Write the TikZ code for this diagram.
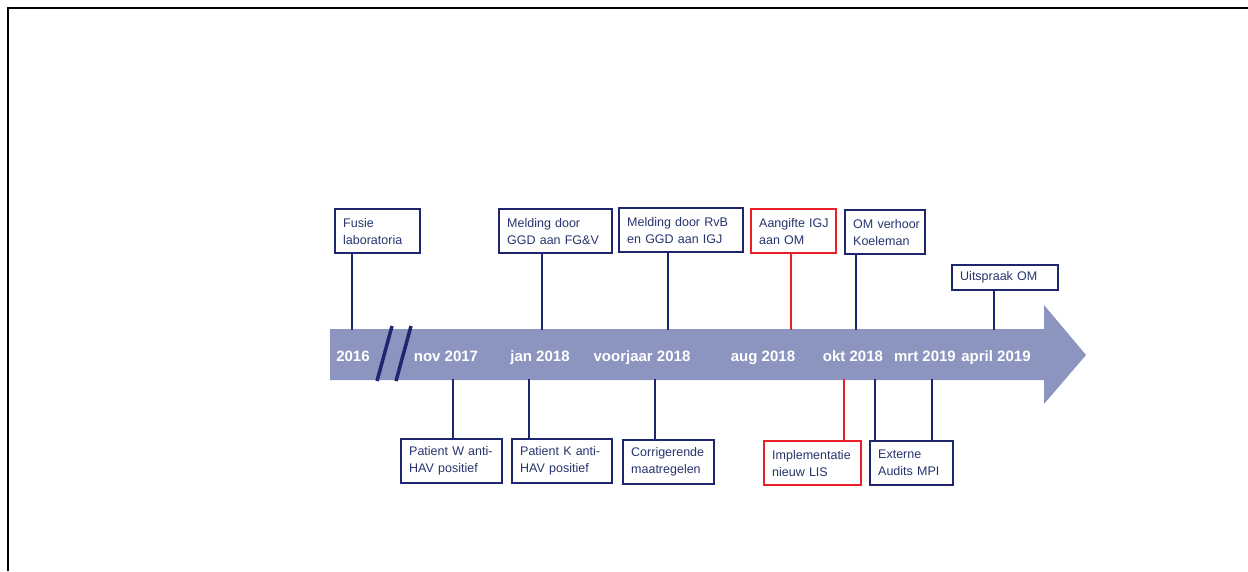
\documentclass[tikz,border=0pt]{standalone}
\usepackage{fontspec}
\setmainfont{Liberation Sans}
\definecolor{navy}{RGB}{30,38,112}
\definecolor{tlred}{RGB}{232,32,40}
\definecolor{arrowfill}{RGB}{140,148,192}
\definecolor{boxtext}{RGB}{40,52,110}
\begin{document}
\begin{tikzpicture}[x=1pt,y=-1pt,
  tbox/.style={draw=navy, line width=2.4pt, fill=white, inner xsep=8pt, inner ysep=0pt,
    minimum height=44pt, align=left, anchor=north west, text=boxtext,
    font=\fontsize{12.5}{17}\selectfont},
  redbox/.style={tbox, draw=tlred},
  stem/.style={draw=navy, line width=2.8pt},
  redstem/.style={draw=tlred, line width=2.8pt},
  lbl/.style={anchor=base, text=white, inner sep=0pt, font=\bfseries\fontsize{15}{18}\selectfont},
  brk/.style={draw=navy, line width=3.5pt}
]
\useasboundingbox (0,0) rectangle (1248,571);
% frame
\draw[line width=1.5pt, black] (8,571) -- (8,8) -- (1248,8);

% timeline arrow
\fill[arrowfill] (330,329) -- (1044,329) -- (1044,305) -- (1086,355) -- (1044,404) -- (1044,380) -- (330,380) -- cycle;

% break marks
\draw[brk] (392,326) -- (377,381);
\draw[brk] (411,326) -- (396,381);

% axis labels
\node[lbl] (l2016) at (353,361) {2016};
\node[lbl] (lnov17) at (446,361) {nov 2017};
\node[lbl] (ljan18) at (540,361) {jan 2018};
\node[lbl] (lvj18) at (642,361) {voorjaar 2018};
\node[lbl] (laug18) at (763,361) {aug 2018};
\node[lbl] (lokt18) at (853,361) {okt 2018};
\node[lbl] (lmrt19) at (925,361) {mrt 2019};
\node[lbl] (lapr19) at (996,361) {april 2019};

% attachment points on the arrow
\coordinate (t1) at (352,330);
\coordinate (t2) at (542,330);
\coordinate (t3) at (668,330);
\coordinate (t4) at (791,330);
\coordinate (t5) at (856,330);
\coordinate (t6) at (994,330);
\coordinate (b1) at (453,379);
\coordinate (b2) at (529,379);
\coordinate (b3) at (655,379);
\coordinate (b4) at (844,379);
\coordinate (b5) at (875,379);
\coordinate (b6) at (932,379);

% top boxes
\node[tbox, text width=69pt] (fusie) at (334,208) {Fusie\\laboratoria};
\node[tbox, text width=97pt] (ggd) at (498,208) {Melding door\\GGD aan FG\&V};
\node[tbox, text width=108pt] (rvb) at (618,207) {Melding door RvB\\en GGD aan IGJ};
\node[redbox, text width=69pt] (aangifte) at (750,208) {\mbox{Aangifte IGJ}\\aan OM};
\node[tbox, text width=64pt] (verhoor) at (844,209) {\mbox{OM verhoor}\\Koeleman};
\node[tbox, text width=90pt, minimum height=25pt] (uitspraak) at (951,264) {Uitspraak OM};

% bottom boxes
\node[tbox, text width=85pt] (patw) at (400,438) {\mbox{Patient W anti-}\\HAV positief};
\node[tbox, text width=84pt] (patk) at (511,438) {\mbox{Patient K anti-}\\HAV positief};
\node[tbox, text width=75pt] (corr) at (622,439) {Corrigerende\\maatregelen};
\node[redbox, text width=81pt] (impl) at (763,440) {\mbox{Implementatie}\\nieuw LIS};
\node[tbox, text width=67pt] (extern) at (869,440) {Externe\\Audits MPI};

% stems from boxes to the timeline
\draw[stem] (fusie.south -| t1) -- (t1);
\draw[stem] (ggd.south -| t2) -- (t2);
\draw[stem] (rvb.south -| t3) -- (t3);
\draw[redstem] (aangifte.south -| t4) -- (t4);
\draw[stem] (verhoor.south -| t5) -- (t5);
\draw[stem] (uitspraak.south -| t6) -- (t6);
\draw[stem] (patw.north -| b1) -- (b1);
\draw[stem] (patk.north -| b2) -- (b2);
\draw[stem] (corr.north -| b3) -- (b3);
\draw[redstem] (impl.north -| b4) -- (b4);
\draw[stem] (extern.north -| b5) -- (b5);
\draw[stem] (extern.north -| b6) -- (b6);
\end{tikzpicture}
\end{document}
